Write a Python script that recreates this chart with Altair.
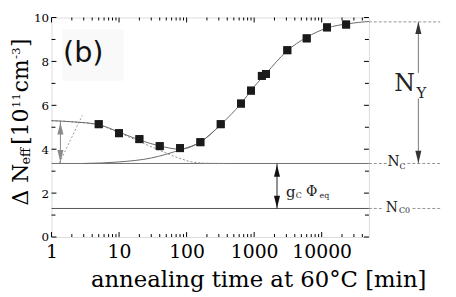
import altair as alt
import pandas as pd

# measured data (annealing time [min], Delta N_eff [1e11 cm^-3])
t_pts = [5, 10, 20, 40, 80, 160, 320, 640, 900, 1300, 1500, 3100, 6000, 12000, 23000]
n_pts = [5.14, 4.73, 4.46, 4.14, 4.05, 4.32, 5.14, 6.08, 6.67, 7.34, 7.43, 8.51, 9.05, 9.55, 9.68]

# fit curve
fit_t = [1, 2, 5, 10, 20, 40, 80, 160, 320, 640, 1000, 1500, 3000, 6000, 12000, 25000, 50000]
fit_n = [5.3, 5.25, 5.12, 4.78, 4.42, 4.15, 4.0, 4.33, 5.12, 6.08, 6.85, 7.45, 8.45, 9.1, 9.52, 9.72, 9.82]

# beneficial annealing component (dotted)
ben_t = [1, 2, 5, 10, 20, 40, 80, 120, 200, 400]
ben_n = [5.3, 5.25, 5.1, 4.75, 4.35, 3.95, 3.58, 3.42, 3.36, 3.35]

# reverse annealing component (solid)
rev_t = [3, 10, 30, 80, 160, 320]
rev_n = [3.35, 3.42, 3.6, 3.97, 4.33, 5.12]

# steep dotted line near the start
steep_t = [1.31, 2.86]
steep_n = [3.38, 5.54]

# levels
N_Y_TOP = 9.8
N_C = 3.35
N_C0 = 1.3

x_major = [1, 10, 100, 1000, 10000]
x_minor = [m * d for d in [1, 10, 100, 1000] for m in range(2, 10)] + [20000, 30000, 40000]
y_major = [0, 2, 4, 6, 8, 10]
y_minor = [1, 3, 5, 7, 9]

W, H = 321, 222
SERIF = "DejaVu Serif"
xs = alt.Scale(type="log", domain=[1, 50000], nice=False)
ys = alt.Scale(domain=[0, 10], nice=False)

pts = pd.DataFrame({"t": t_pts, "n": n_pts})
fit = pd.DataFrame({"t": fit_t, "n": fit_n})
ben = pd.DataFrame({"t": ben_t, "n": ben_n})
rev = pd.DataFrame({"t": rev_t, "n": rev_n})
steep = pd.DataFrame({"t": steep_t, "n": steep_n})

X = lambda f="t": alt.X(f"{f}:Q", scale=xs)
Y = lambda f="n": alt.Y(f"{f}:Q", scale=ys)

base_pts = alt.Chart(pts).mark_square(size=64, color="#1a1a1a", opacity=1).encode(
    x=alt.X("t:Q", scale=xs,
            axis=alt.Axis(values=x_major, format="d", ticks=False, domain=False, grid=False,
                          labelFont=SERIF, labelFontSize=19, labelColor="black", labelPadding=6,
                          labelFlush=False,
                          title="annealing time at 60°C [min]", titleFont=SERIF, titleFontSize=23,
                          titleFontWeight="normal", titleColor="black",
                          titleX=209, titleY=50, titleBaseline="alphabetic")),
    y=alt.Y("n:Q", scale=ys,
            axis=alt.Axis(values=y_major, format="d", ticks=False, domain=False, grid=False,
                          labelFont=SERIF, labelFontSize=12, labelColor="black", labelPadding=3,
                          title=None)),
)

# faint background box behind the panel label
box = alt.Chart(pd.DataFrame({"a": [1.45], "b": [11.7], "lo": [7.12], "hi": [9.46]})).mark_rect(
    color="#f9f9f9").encode(x=alt.X("a:Q", scale=xs), x2="b:Q", y=alt.Y("lo:Q", scale=ys), y2="hi:Q")

fit_line = alt.Chart(fit).mark_line(color="#6a6a6a", strokeWidth=1, interpolate="monotone").encode(x=X(), y=Y())
ben_line = alt.Chart(ben).mark_line(color="#8a8a8a", strokeWidth=1, strokeDash=[2, 2], interpolate="monotone").encode(x=X(), y=Y())
rev_line = alt.Chart(rev).mark_line(color="#6a6a6a", strokeWidth=1, interpolate="monotone").encode(x=X(), y=Y())
steep_line = alt.Chart(steep).mark_line(color="#9a9a9a", strokeWidth=1, strokeDash=[2, 2]).encode(x=X(), y=Y())

# horizontal level lines inside plot
lv = pd.DataFrame({"a": [1, 1], "b": [50000, 50000], "n": [N_C, N_C0], "c": ["#707070", "#555555"]})
level_lines = alt.Chart(lv).mark_rule(strokeWidth=1).encode(
    x=alt.X("a:Q", scale=xs), x2="b:Q", y=Y(), color=alt.Color("c:N", scale=None))

# dashed lines on the right outside the plot
dash = pd.DataFrame({
    "a": [50000, 50000, 186000, 50000, 221000],
    "b": [568000, 95000, 568000, 83000, 568000],
    "n": [N_Y_TOP, N_C, N_C, N_C0, N_C0],
})
dash_lines = alt.Chart(dash).mark_rule(strokeWidth=0.8, strokeDash=[3, 2], color="#777777").encode(
    x=alt.X("a:Q", scale=xs), x2="b:Q", y=Y())

# arrow shafts
shafts = pd.DataFrame({
    "t": [1.355, 2180, 270000, 270000],
    "a": [N_C, N_C0, 7.48, N_C],
    "b": [5.27, N_C, N_Y_TOP, 6.31],
    "c": ["#8a8a8a", "#222222", "#777777", "#777777"],
})
shaft_rules = alt.Chart(shafts).mark_rule(strokeWidth=1).encode(
    x=alt.X("t:Q", scale=xs), y=alt.Y("a:Q", scale=ys), y2="b:Q", color=alt.Color("c:N", scale=None))

UP = "M-0.5,1L0,-1L0.5,1Z"
DOWN = "M-0.5,-1L0,1L0.5,-1Z"
heads = pd.DataFrame({
    "t": [1.355, 1.355, 2180, 2180, 270000, 270000],
    "n": [4.95, 3.69, 3.02, 1.6, 9.53, 3.65],
    "s": [UP, DOWN, UP, DOWN, UP, DOWN],
    "c": ["#8a8a8a", "#8a8a8a", "#111111", "#111111", "#333333", "#333333"],
})
head_marks = alt.Chart(heads).mark_point(filled=True, size=150, opacity=1, strokeWidth=0).encode(
    x=X(), y=Y(), shape=alt.Shape("s:N", scale=None), color=alt.Color("c:N", scale=None))

# annotation labels (data coordinates)
ann = pd.DataFrame({
    "txt": ["N", "Y", "N", "C", "N", "C0", "g", "C", "Φ", "eq"],
    "t": [168600, 300000, 116000, 158000, 109000, 168600, 3490, 4570, 7100, 11000],
    "n": [6.96, 6.55, 3.42, 3.2, 1.33, 1.17, 2.03, 1.85, 2.07, 1.85],
    "sz": [24, 15, 14, 8, 14, 8, 15, 8, 14, 8],
})
ann_text = alt.Chart(ann).mark_text(font=SERIF, color="#222222", baseline="middle", align="center").encode(
    x=X(), y=Y(), text="txt:N", size=alt.Size("sz:Q", scale=None))

label_b = alt.Chart(pd.DataFrame({"t": [2.95], "n": [8.38], "txt": ["(b)"]})).mark_text(
    font="DejaVu Sans", fontSize=29, color="#111111", baseline="middle", align="center").encode(
    x=X(), y=Y(), text="txt:N")

# y-axis title made of pieces (pixel positions relative to plot area)
ytitle = pd.DataFrame({
    "txt": ["Δ N", "eff", "[10", "11", "cm", "-3", "]"],
    "px": [-31, -26, -31, -36, -31, -36, -31],
    "py": [169, 140.3, 110.4, 83.9, 59, 36, 25.4],
    "sz": [22, 13, 22, 12, 22, 12, 22],
})
ytitle_text = alt.Chart(ytitle).mark_text(font=SERIF, color="black", angle=270, baseline="middle", align="center").encode(
    x=alt.X("px:Q", scale=None), y=alt.Y("py:Q", scale=None), text="txt:N", size=alt.Size("sz:Q", scale=None))

# inward ticks on all four sides
def xticks(vals, length):
    d = pd.DataFrame({"t": vals})
    bot = alt.Chart(d).mark_rule(color="black", strokeWidth=1).encode(
        x=alt.X("t:Q", scale=xs), y=alt.value(H), y2=alt.value(H - length))
    top = alt.Chart(d).mark_rule(color="black", strokeWidth=1).encode(
        x=alt.X("t:Q", scale=xs), y=alt.value(0), y2=alt.value(length))
    return bot + top

def yticks(vals, length):
    d = pd.DataFrame({"n": vals})
    left = alt.Chart(d).mark_rule(color="black", strokeWidth=1).encode(
        y=alt.Y("n:Q", scale=ys), x=alt.value(0), x2=alt.value(length))
    right = alt.Chart(d).mark_rule(color="black", strokeWidth=1).encode(
        y=alt.Y("n:Q", scale=ys), x=alt.value(W), x2=alt.value(W - length))
    return left + right

chart = alt.layer(
    base_pts, box, level_lines, ben_line, steep_line, rev_line, fit_line, dash_lines,
    shaft_rules, head_marks, ann_text, label_b, ytitle_text,
    xticks(x_major, 5), xticks(x_minor, 3), yticks(y_major, 5), yticks(y_minor, 4),
    base_pts,
).properties(
    width=W, height=H,
    autosize=alt.AutoSizeParams(type="none"),
    padding={"left": 44, "top": 8, "right": 80, "bottom": 55},
).configure_view(stroke="black", strokeWidth=1.3).configure(background="white")

chart.save("out.html", embed_options={"renderer": "svg", "actions": False})
